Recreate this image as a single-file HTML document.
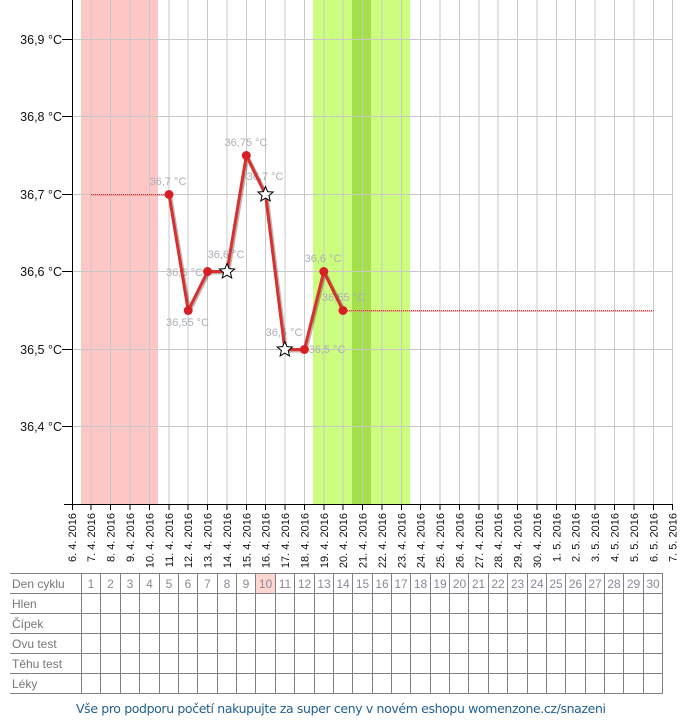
<!DOCTYPE html>
<html><head><meta charset="utf-8"><style>
html,body{margin:0;padding:0;background:#fff;}
svg{display:block;}
</style></head><body>
<svg width="680" height="720" viewBox="0 0 680 720" xmlns="http://www.w3.org/2000/svg" font-family="'Liberation Sans', Arial, sans-serif">
<!-- bands -->
<rect x="81" y="0" width="77" height="504" fill="#ffc6c6"/>
<rect x="313" y="0" width="97" height="504" fill="#cdfd7e"/>
<rect x="352" y="0" width="19" height="504" fill="#a3e04b"/>
<!-- gridlines -->
<g stroke="#c8c8c8" stroke-width="1">
<line x1="72" y1="39.5" x2="672" y2="39.5"/>
<line x1="72" y1="116.5" x2="672" y2="116.5"/>
<line x1="72" y1="194.5" x2="672" y2="194.5"/>
<line x1="72" y1="271.5" x2="672" y2="271.5"/>
<line x1="72" y1="349.5" x2="672" y2="349.5"/>
<line x1="72" y1="426.5" x2="672" y2="426.5"/>
<line x1="91" y1="0" x2="91" y2="504"/>
<line x1="110.5" y1="0" x2="110.5" y2="504"/>
<line x1="130" y1="0" x2="130" y2="504"/>
<line x1="149.5" y1="0" x2="149.5" y2="504"/>
<line x1="169" y1="0" x2="169" y2="504"/>
<line x1="188" y1="0" x2="188" y2="504"/>
<line x1="207.5" y1="0" x2="207.5" y2="504"/>
<line x1="227" y1="0" x2="227" y2="504"/>
<line x1="246.5" y1="0" x2="246.5" y2="504"/>
<line x1="265.5" y1="0" x2="265.5" y2="504"/>
<line x1="285" y1="0" x2="285" y2="504"/>
<line x1="304.5" y1="0" x2="304.5" y2="504"/>
<line x1="324" y1="0" x2="324" y2="504"/>
<line x1="343" y1="0" x2="343" y2="504"/>
<line x1="362.5" y1="0" x2="362.5" y2="504"/>
<line x1="382" y1="0" x2="382" y2="504"/>
<line x1="401.5" y1="0" x2="401.5" y2="504"/>
<line x1="420.5" y1="0" x2="420.5" y2="504"/>
<line x1="440" y1="0" x2="440" y2="504"/>
<line x1="459.5" y1="0" x2="459.5" y2="504"/>
<line x1="479" y1="0" x2="479" y2="504"/>
<line x1="498" y1="0" x2="498" y2="504"/>
<line x1="517.5" y1="0" x2="517.5" y2="504"/>
<line x1="537" y1="0" x2="537" y2="504"/>
<line x1="556.5" y1="0" x2="556.5" y2="504"/>
<line x1="575.5" y1="0" x2="575.5" y2="504"/>
<line x1="595" y1="0" x2="595" y2="504"/>
<line x1="614.5" y1="0" x2="614.5" y2="504"/>
<line x1="634" y1="0" x2="634" y2="504"/>
<line x1="653.5" y1="0" x2="653.5" y2="504"/>
<line x1="672.5" y1="0" x2="672.5" y2="504"/>
</g>
<!-- axes -->
<g stroke="#000" stroke-width="1">
<line x1="72.5" y1="0" x2="72.5" y2="504.5"/>
<line x1="64" y1="504.5" x2="673" y2="504.5"/>
<line x1="62" y1="39.5" x2="72" y2="39.5"/>
<line x1="62" y1="116.5" x2="72" y2="116.5"/>
<line x1="62" y1="194.5" x2="72" y2="194.5"/>
<line x1="62" y1="271.5" x2="72" y2="271.5"/>
<line x1="62" y1="349.5" x2="72" y2="349.5"/>
<line x1="62" y1="426.5" x2="72" y2="426.5"/>
</g>
<g stroke="#000" stroke-width="1">
<line x1="72.5" y1="504" x2="72.5" y2="510"/>
<line x1="91" y1="504" x2="91" y2="510"/>
<line x1="110.5" y1="504" x2="110.5" y2="510"/>
<line x1="130" y1="504" x2="130" y2="510"/>
<line x1="149.5" y1="504" x2="149.5" y2="510"/>
<line x1="169" y1="504" x2="169" y2="510"/>
<line x1="188" y1="504" x2="188" y2="510"/>
<line x1="207.5" y1="504" x2="207.5" y2="510"/>
<line x1="227" y1="504" x2="227" y2="510"/>
<line x1="246.5" y1="504" x2="246.5" y2="510"/>
<line x1="265.5" y1="504" x2="265.5" y2="510"/>
<line x1="285" y1="504" x2="285" y2="510"/>
<line x1="304.5" y1="504" x2="304.5" y2="510"/>
<line x1="324" y1="504" x2="324" y2="510"/>
<line x1="343" y1="504" x2="343" y2="510"/>
<line x1="362.5" y1="504" x2="362.5" y2="510"/>
<line x1="382" y1="504" x2="382" y2="510"/>
<line x1="401.5" y1="504" x2="401.5" y2="510"/>
<line x1="420.5" y1="504" x2="420.5" y2="510"/>
<line x1="440" y1="504" x2="440" y2="510"/>
<line x1="459.5" y1="504" x2="459.5" y2="510"/>
<line x1="479" y1="504" x2="479" y2="510"/>
<line x1="498" y1="504" x2="498" y2="510"/>
<line x1="517.5" y1="504" x2="517.5" y2="510"/>
<line x1="537" y1="504" x2="537" y2="510"/>
<line x1="556.5" y1="504" x2="556.5" y2="510"/>
<line x1="575.5" y1="504" x2="575.5" y2="510"/>
<line x1="595" y1="504" x2="595" y2="510"/>
<line x1="614.5" y1="504" x2="614.5" y2="510"/>
<line x1="634" y1="504" x2="634" y2="510"/>
<line x1="653.5" y1="504" x2="653.5" y2="510"/>
<line x1="672.5" y1="504" x2="672.5" y2="510"/>
</g>
<!-- y labels -->
<g font-size="12.5" fill="#111" text-anchor="end">
<text x="62" y="44">36,9 °C</text>
<text x="62" y="121">36,8 °C</text>
<text x="62" y="199">36,7 °C</text>
<text x="62" y="276">36,6 °C</text>
<text x="62" y="354">36,5 °C</text>
<text x="62" y="431">36,4 °C</text>
</g>
<!-- x labels -->
<g font-size="11" fill="#111" text-anchor="end">
<text transform="translate(76,513) rotate(-90)">6. 4. 2016</text>
<text transform="translate(95,513) rotate(-90)">7. 4. 2016</text>
<text transform="translate(114.5,513) rotate(-90)">8. 4. 2016</text>
<text transform="translate(134,513) rotate(-90)">9. 4. 2016</text>
<text transform="translate(153.5,513) rotate(-90)">10. 4. 2016</text>
<text transform="translate(173,513) rotate(-90)">11. 4. 2016</text>
<text transform="translate(192,513) rotate(-90)">12. 4. 2016</text>
<text transform="translate(211.5,513) rotate(-90)">13. 4. 2016</text>
<text transform="translate(231,513) rotate(-90)">14. 4. 2016</text>
<text transform="translate(250.5,513) rotate(-90)">15. 4. 2016</text>
<text transform="translate(269.5,513) rotate(-90)">16. 4. 2016</text>
<text transform="translate(289,513) rotate(-90)">17. 4. 2016</text>
<text transform="translate(308.5,513) rotate(-90)">18. 4. 2016</text>
<text transform="translate(328,513) rotate(-90)">19. 4. 2016</text>
<text transform="translate(347,513) rotate(-90)">20. 4. 2016</text>
<text transform="translate(366.5,513) rotate(-90)">21. 4. 2016</text>
<text transform="translate(386,513) rotate(-90)">22. 4. 2016</text>
<text transform="translate(405.5,513) rotate(-90)">23. 4. 2016</text>
<text transform="translate(424.5,513) rotate(-90)">24. 4. 2016</text>
<text transform="translate(444,513) rotate(-90)">25. 4. 2016</text>
<text transform="translate(463.5,513) rotate(-90)">26. 4. 2016</text>
<text transform="translate(483,513) rotate(-90)">27. 4. 2016</text>
<text transform="translate(502,513) rotate(-90)">28. 4. 2016</text>
<text transform="translate(521.5,513) rotate(-90)">29. 4. 2016</text>
<text transform="translate(541,513) rotate(-90)">30. 4. 2016</text>
<text transform="translate(560.5,513) rotate(-90)">1. 5. 2016</text>
<text transform="translate(579.5,513) rotate(-90)">2. 5. 2016</text>
<text transform="translate(599,513) rotate(-90)">3. 5. 2016</text>
<text transform="translate(618.5,513) rotate(-90)">4. 5. 2016</text>
<text transform="translate(638,513) rotate(-90)">5. 5. 2016</text>
<text transform="translate(657.5,513) rotate(-90)">6. 5. 2016</text>
<text transform="translate(676.5,513) rotate(-90)">7. 5. 2016</text>
</g>
<!-- dotted lines -->
<g stroke="#e02828" stroke-width="1" stroke-dasharray="1,1" shape-rendering="crispEdges">
<line x1="91" y1="194.5" x2="169" y2="194.5"/>
<line x1="343" y1="310.5" x2="653.5" y2="310.5"/>
</g>
<g stroke="#f08080" stroke-width="1" shape-rendering="crispEdges" opacity="0.6">
<line x1="91" y1="195.5" x2="169" y2="195.5"/>
<line x1="343" y1="311.5" x2="653.5" y2="311.5"/>
</g>
<!-- data labels -->
<g font-size="11" fill="#aab0b6" text-anchor="middle">
<text x="168" y="185">36,7 °C</text>
<text x="187.5" y="326">36,55 °C</text>
<text x="184.5" y="276">36,6 °C</text>
<text x="226" y="258">36,6 °C</text>
<text x="246" y="146">36,75 °C</text>
<text x="265" y="180">36,7 °C</text>
<text x="284" y="336">36,5 °C</text>
<text x="327" y="353">36,5 °C</text>
<text x="323" y="262">36,6 °C</text>
<text x="343.5" y="301">36,55 °C</text>
</g>
<!-- series -->
<polyline points="169,194.5 188.2,310.5 207.6,271.5 227,271.5 246.3,155.5 265.5,194.5 284.8,349.5 304.4,349.5 323.8,271.5 343,310.5" fill="none" stroke="#5a1010" stroke-opacity="0.35" stroke-width="4" stroke-linejoin="round" transform="translate(1,1)"/>
<polyline points="169,194.5 188.2,310.5 207.6,271.5 227,271.5 246.3,155.5 265.5,194.5 284.8,349.5 304.4,349.5 323.8,271.5 343,310.5" fill="none" stroke="#d63030" stroke-width="3" stroke-linejoin="round"/>
<g fill="#d81f26">
<circle cx="169" cy="194.5" r="4.5"/>
<circle cx="188.2" cy="310.5" r="4.5"/>
<circle cx="207.6" cy="271.5" r="4.5"/>
<circle cx="246.3" cy="155.5" r="4.5"/>
<circle cx="304.4" cy="349.5" r="4.5"/>
<circle cx="323.8" cy="271.5" r="4.5"/>
<circle cx="343" cy="310.5" r="4.5"/>
</g>
<g fill="#fff" stroke="#000" stroke-width="1" stroke-linejoin="miter">
<polygon transform="translate(227,271.5)" points="0,-8 2.12,-2.91 7.61,-2.47 3.42,1.11 4.7,6.47 0,3.6 -4.7,6.47 -3.42,1.11 -7.61,-2.47 -2.12,-2.91"/>
<polygon transform="translate(265.5,194.5)" points="0,-8 2.12,-2.91 7.61,-2.47 3.42,1.11 4.7,6.47 0,3.6 -4.7,6.47 -3.42,1.11 -7.61,-2.47 -2.12,-2.91"/>
<polygon transform="translate(284.8,349.5)" points="0,-8 2.12,-2.91 7.61,-2.47 3.42,1.11 4.7,6.47 0,3.6 -4.7,6.47 -3.42,1.11 -7.61,-2.47 -2.12,-2.91"/>
</g>
<!-- table -->
<rect x="256" y="574" width="19" height="19" fill="#fdd6d0"/>
<g stroke="#808080" stroke-width="1">
<line x1="10" y1="573.5" x2="662.5" y2="573.5"/>
<line x1="10" y1="593.5" x2="662.5" y2="593.5"/>
<line x1="10" y1="613.5" x2="662.5" y2="613.5"/>
<line x1="10" y1="633.5" x2="662.5" y2="633.5"/>
<line x1="10" y1="653.5" x2="662.5" y2="653.5"/>
<line x1="10" y1="673.5" x2="662.5" y2="673.5"/>
<line x1="10" y1="693.5" x2="662.5" y2="693.5"/>
<line x1="81.5" y1="573" x2="81.5" y2="694"/>
<line x1="100.5" y1="573" x2="100.5" y2="694"/>
<line x1="120.5" y1="573" x2="120.5" y2="694"/>
<line x1="139.5" y1="573" x2="139.5" y2="694"/>
<line x1="159.5" y1="573" x2="159.5" y2="694"/>
<line x1="178.5" y1="573" x2="178.5" y2="694"/>
<line x1="197.5" y1="573" x2="197.5" y2="694"/>
<line x1="217.5" y1="573" x2="217.5" y2="694"/>
<line x1="236.5" y1="573" x2="236.5" y2="694"/>
<line x1="255.5" y1="573" x2="255.5" y2="694"/>
<line x1="275.5" y1="573" x2="275.5" y2="694"/>
<line x1="294.5" y1="573" x2="294.5" y2="694"/>
<line x1="314.5" y1="573" x2="314.5" y2="694"/>
<line x1="333.5" y1="573" x2="333.5" y2="694"/>
<line x1="352.5" y1="573" x2="352.5" y2="694"/>
<line x1="372.5" y1="573" x2="372.5" y2="694"/>
<line x1="391.5" y1="573" x2="391.5" y2="694"/>
<line x1="410.5" y1="573" x2="410.5" y2="694"/>
<line x1="430.5" y1="573" x2="430.5" y2="694"/>
<line x1="449.5" y1="573" x2="449.5" y2="694"/>
<line x1="468.5" y1="573" x2="468.5" y2="694"/>
<line x1="488.5" y1="573" x2="488.5" y2="694"/>
<line x1="507.5" y1="573" x2="507.5" y2="694"/>
<line x1="527.5" y1="573" x2="527.5" y2="694"/>
<line x1="546.5" y1="573" x2="546.5" y2="694"/>
<line x1="565.5" y1="573" x2="565.5" y2="694"/>
<line x1="585.5" y1="573" x2="585.5" y2="694"/>
<line x1="604.5" y1="573" x2="604.5" y2="694"/>
<line x1="623.5" y1="573" x2="623.5" y2="694"/>
<line x1="643.5" y1="573" x2="643.5" y2="694"/>
<line x1="662.5" y1="573" x2="662.5" y2="694"/>
</g>
<g font-size="12" fill="#777">
<text x="12" y="588">Den cyklu</text>
<text x="12" y="608">Hlen</text>
<text x="12" y="628">Čípek</text>
<text x="12" y="648">Ovu test</text>
<text x="12" y="668">Těhu test</text>
<text x="12" y="688">Léky</text>
</g>
<g font-size="12" fill="#8f8598" text-anchor="middle">
<text x="91" y="588">1</text><text x="110.5" y="588">2</text><text x="130" y="588">3</text><text x="149.5" y="588">4</text><text x="169" y="588">5</text><text x="188" y="588">6</text><text x="207.5" y="588">7</text><text x="227" y="588">8</text><text x="246" y="588">9</text><text x="265.5" y="588">10</text>
<text x="285" y="588">11</text><text x="304.5" y="588">12</text><text x="324" y="588">13</text><text x="343" y="588">14</text><text x="362.5" y="588">15</text><text x="382" y="588">16</text><text x="401" y="588">17</text><text x="420.5" y="588">18</text><text x="440" y="588">19</text><text x="459.5" y="588">20</text>
<text x="478.5" y="588">21</text><text x="498" y="588">22</text><text x="517.5" y="588">23</text><text x="537" y="588">24</text><text x="556" y="588">25</text><text x="575.5" y="588">26</text><text x="595" y="588">27</text><text x="614" y="588">28</text><text x="633.5" y="588">29</text><text x="653" y="588">30</text>
</g>
<!-- footer -->
<text x="76" y="713" font-family="'DejaVu Sans', sans-serif" font-size="12.5" fill="#1f5f8e" textLength="530" lengthAdjust="spacing">Vše pro podporu početí nakupujte za super ceny v novém eshopu womenzone.cz/snazeni</text>
</svg>
</body></html>
